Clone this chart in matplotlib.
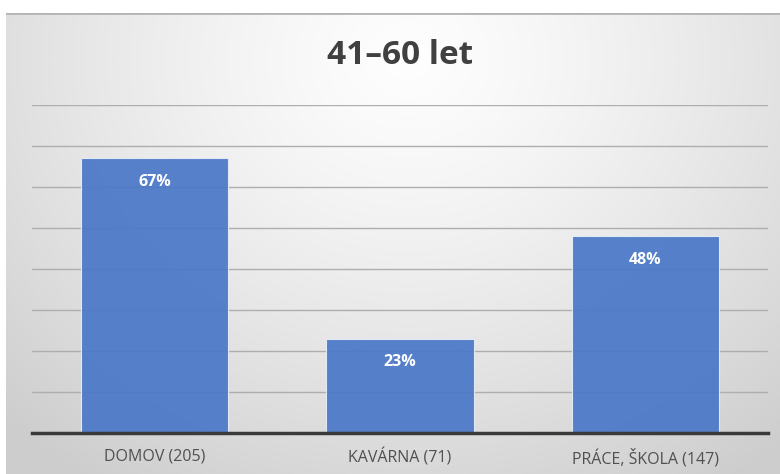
import numpy as np
import matplotlib
matplotlib.use('Agg')
import matplotlib.pyplot as plt

# data
kategorie = ['DOMOV (205)', 'KAVÁRNA (71)', 'PRÁCE, ŠKOLA (147)']
podil = [67, 23, 48]
titulek = '41–60 let'

plt.rcParams['font.family'] = ['Open Sans', 'DejaVu Sans']

W, H = 780, 474
fig = plt.figure(figsize=(W / 100, H / 100), dpi=100)
fig.patch.set_facecolor('white')

# background with radial gradient
bg = fig.add_axes([6 / W, 0, (W - 6) / W, (H - 13) / H])
yy, xx = np.mgrid[0:1:300j, 0:1:500j]
r = np.sqrt(((xx - 0.52) / 0.75) ** 2 + ((yy - 0.1) / 1.1) ** 2)
val = 0.995 - 0.19 * np.clip(r, 0, 1) ** 1.3
bg.imshow(np.dstack([val, val, val]), aspect='auto', extent=[0, 1, 1, 0])
bg.axhline(0.001, color='#b4b4b4', lw=2)
bg.set_xlim(0, 1)
bg.set_ylim(1, 0)
bg.axis('off')

ax = fig.add_axes([32 / W, (H - 433) / H, 736 / W, 328 / H])
ax.patch.set_alpha(0)
x = np.arange(len(kategorie))
bars = ax.bar(x, podil, width=0.6, color='#4a77c8', alpha=0.92,
              edgecolor='#e8eef8', linewidth=0.8, zorder=2)
ax.set_xlim(-0.5, len(kategorie) - 0.5)
ax.set_ylim(0, 80)
ax.set_yticks(np.arange(0, 81, 10))
ax.yaxis.grid(True, color='#aeaeae', linewidth=1, zorder=1)
ax.set_axisbelow(True)
ax.tick_params(axis='y', left=False, labelleft=False)
ax.tick_params(axis='x', bottom=False, labelsize=11.5, labelcolor='#505050', pad=8)
ax.set_xticks(x)
ax.set_xticklabels(kategorie)
for s in ['top', 'right', 'left']:
    ax.spines[s].set_visible(False)
ax.spines['bottom'].set_color('#3a3a3a')
ax.spines['bottom'].set_linewidth(2.5)
ax.spines['bottom'].set_zorder(3)

for xi, v in zip(x, podil):
    ax.annotate('%d%%' % v, (xi, v), xytext=(0, -17), textcoords='offset points',
                ha='center', va='center', color='white', fontsize=11.5,
                fontweight='bold', zorder=4)

fig.text(400 / W, 1 - 55 / H, titulek, ha='center', va='center',
         fontsize=24, fontweight='bold', color='#404040')

fig.savefig('out.png', dpi=100)
